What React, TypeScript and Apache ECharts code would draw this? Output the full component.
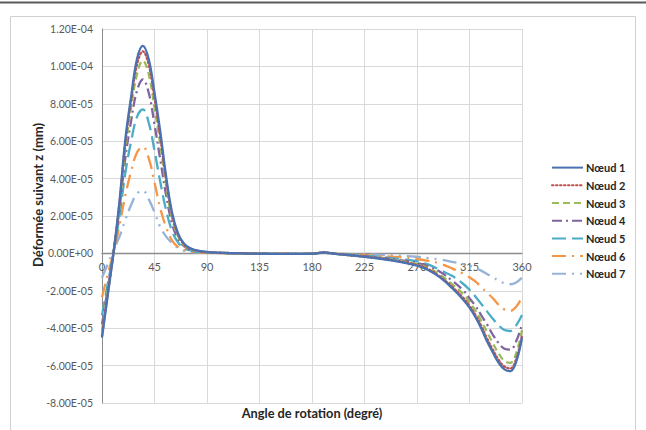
import React, { useEffect, useRef } from "react";
import * as echarts from "echarts";

// Angles (degrees)
const angles = [0, 5, 10, 15, 20, 25, 30, 35, 40, 45, 50, 55, 60, 65, 70, 75, 80, 90, 100, 120, 140, 160, 180, 190, 200, 220, 240, 255, 270, 280, 290, 300, 310, 315, 320, 325, 330, 335, 340, 345, 350, 355, 360];

// Values in units of 1E-05 mm
const noeud1 = [-4.5, -2.2, 0.1, 2.8, 6.1, 8.4, 10.4, 11.1, 10.4, 8.6, 6.5, 4.1, 2.2, 1.1, 0.55, 0.3, 0.18, 0.08, 0.04, 0.0, -0.02, -0.03, -0.02, 0.05, -0.02, -0.15, -0.3, -0.45, -0.65, -0.9, -1.3, -1.85, -2.5, -2.9, -3.4, -4.0, -4.7, -5.3, -5.85, -6.2, -6.3, -5.8, -4.5];
const noeud2 = [-4.4, -2.15, 0.1, 2.7, 5.9, 8.2, 10.1, 10.8, 10.1, 8.3, 6.2, 3.9, 2.1, 1.05, 0.5, 0.28, 0.17, 0.07, 0.04, 0.0, -0.02, -0.03, -0.02, 0.05, -0.02, -0.15, -0.28, -0.43, -0.62, -0.85, -1.25, -1.78, -2.4, -2.8, -3.28, -3.87, -4.55, -5.15, -5.7, -6.05, -6.15, -5.65, -4.4];
const noeud3 = [-4.1, -2.0, 0.1, 2.6, 5.6, 7.8, 9.6, 10.3, 9.6, 7.8, 5.8, 3.6, 1.9, 0.95, 0.45, 0.25, 0.15, 0.06, 0.03, 0.0, -0.02, -0.03, -0.02, 0.04, -0.02, -0.14, -0.26, -0.4, -0.57, -0.8, -1.15, -1.65, -2.2, -2.6, -3.05, -3.6, -4.2, -4.8, -5.35, -5.75, -5.85, -5.35, -4.1];
const noeud4 = [-3.8, -1.85, 0.1, 2.4, 5.1, 7.1, 8.7, 9.3, 8.6, 6.9, 5.0, 3.1, 1.6, 0.8, 0.4, 0.22, 0.13, 0.05, 0.03, 0.0, -0.02, -0.03, -0.02, 0.04, -0.02, -0.12, -0.24, -0.36, -0.5, -0.7, -1.0, -1.45, -2.0, -2.4, -2.8, -3.3, -3.8, -4.35, -4.8, -5.1, -5.15, -4.7, -3.8];
const noeud5 = [-3.3, -1.6, 0.1, 2.0, 4.3, 6.0, 7.3, 7.7, 7.0, 5.5, 3.8, 2.3, 1.2, 0.6, 0.3, 0.17, 0.1, 0.04, 0.02, 0.0, -0.02, -0.02, -0.02, 0.03, -0.02, -0.1, -0.2, -0.3, -0.42, -0.6, -0.9, -1.2, -1.65, -1.95, -2.3, -2.7, -3.1, -3.5, -3.85, -4.1, -4.15, -3.85, -3.3];
const noeud6 = [-2.35, -1.1, 0.1, 1.5, 3.1, 4.4, 5.4, 5.7, 5.1, 3.8, 2.4, 1.4, 0.7, 0.35, 0.2, 0.12, 0.08, 0.03, 0.02, 0.0, -0.01, -0.02, -0.01, 0.03, -0.01, -0.07, -0.14, -0.2, -0.3, -0.4, -0.55, -0.8, -1.1, -1.28, -1.5, -1.8, -2.1, -2.4, -2.75, -3.0, -3.07, -2.85, -2.35];
const noeud7 = [-1.3, -0.55, 0.2, 0.9, 1.8, 2.6, 3.2, 3.35, 2.9, 2.2, 1.4, 0.9, 0.55, 0.3, 0.15, 0.1, 0.06, 0.03, 0.02, 0.0, -0.01, -0.01, -0.01, 0.02, -0.01, -0.04, -0.08, -0.12, -0.18, -0.25, -0.33, -0.45, -0.58, -0.65, -0.78, -0.92, -1.1, -1.28, -1.45, -1.6, -1.65, -1.55, -1.3];

const seriesNames = ["Nœud 1", "Nœud 2", "Nœud 3", "Nœud 4", "Nœud 5", "Nœud 6", "Nœud 7"];
const seriesValues = [noeud1, noeud2, noeud3, noeud4, noeud5, noeud6, noeud7];
const seriesColors = ["#4A71B0", "#C0504D", "#9BBB59", "#8064A2", "#4BACC6", "#F79646", "#95B3D7"];
const seriesDash: any[] = ["solid", [1.5, 2.5], [7, 4], [10, 4, 2, 4], [14, 6], [14, 6, 2, 6], [14, 6, 2, 6, 2, 6]];

const xTicks = [0, 45, 90, 135, 180, 225, 270, 315, 360];
const yMin = -8;
const yMax = 12;
const yStep = 2;

const FONT = "Lato, 'Liberation Sans', sans-serif";

function fmtSci(v: number): string {
  if (v === 0) return "0.00E+00";
  const real = v * 1e-5;
  const s = real.toExponential(2);
  const [m, e] = s.split("e");
  const sign = e[0] === "-" ? "-" : "+";
  const digits = e.replace(/[+-]/, "").padStart(2, "0");
  return `${m}E${sign}${digits}`;
}

export default function App() {
  const ref = useRef<HTMLDivElement>(null);
  useEffect(() => {
    if (!ref.current) return;
    const chart = echarts.init(ref.current, undefined, { renderer: "svg" });
    const series = seriesNames.map((name, i) => ({
      name,
      type: "line",
      data: angles.map((a, j) => [a, seriesValues[i][j]]),
      smooth: 0.4,
      symbol: "none",
      z: 10 - i,
      lineStyle: {
        color: seriesColors[i],
        width: 2.3,
        type: seriesDash[i],
        cap: i === 1 ? "round" : "butt",
      },
      itemStyle: { color: seriesColors[i] },
    }));
    const plotTop = 29;
    const plotBottom = 403;
    const zeroY = plotTop + ((yMax - 0) / (yMax - yMin)) * (plotBottom - plotTop);
    chart.setOption({
      animation: false,
      backgroundColor: "#ffffff",
      grid: { left: 102, right: 124, top: plotTop, bottom: 430 - plotBottom, containLabel: false },
      xAxis: [
        {
          type: "value",
          min: 0,
          max: 360,
          interval: 45,
          offset: -(plotBottom - zeroY),
          axisLine: { show: true, onZero: false, lineStyle: { color: "#8c8c8c", width: 1.3 } },
          axisTick: { show: false },
          axisLabel: {
            color: "#595959",
            fontFamily: FONT,
            fontSize: 11,
            margin: 8,
            formatter: (v: number) => (xTicks.includes(v) ? String(v) : ""),
          },
          splitLine: { show: true, lineStyle: { color: "#d9d9d9", width: 1 } },
        },
      ],
      yAxis: {
        type: "value",
        min: yMin,
        max: yMax,
        interval: yStep,
        axisLine: { show: true, onZero: false, lineStyle: { color: "#8c8c8c", width: 1 } },
        axisTick: { show: false },
        axisLabel: {
          color: "#595959",
          fontFamily: FONT,
          fontSize: 10.5,
          margin: 9,
          formatter: (v: number) => fmtSci(v),
        },
        splitLine: { show: true, lineStyle: { color: "#d9d9d9", width: 1 } },
      },
      legend: {
        orient: "vertical",
        left: 546,
        top: 157,
        itemWidth: 31,
        itemHeight: 14,
        itemGap: 6.5,
        itemStyle: { opacity: 0, color: "transparent", borderColor: "transparent", borderWidth: 0 },
        textStyle: { fontFamily: FONT, fontSize: 11, fontWeight: "bold", color: "#262626", padding: [0, 0, 0, -2] },
        data: seriesNames,
      },
      graphic: [
        { type: "line", shape: { x1: 0, y1: 2.5, x2: 646, y2: 2.5 }, style: { stroke: "#5a5a5a", lineWidth: 2 } },
        { type: "rect", shape: { x: 10.5, y: 16.5, width: 625, height: 420 }, style: { fill: "none", stroke: "#d0d0d0", lineWidth: 1 } },
        {
          type: "text",
          x: 38,
          y: 195,
          rotation: Math.PI / 2,
          style: {
            text: "Déformée suivant z (mm)",
            font: `bold 13px ${FONT}`,
            fill: "#262626",
            textAlign: "center",
            textVerticalAlign: "middle",
          },
        },
        {
          type: "text",
          x: 312,
          y: 413,
          style: {
            text: "Angle de rotation (degré)",
            font: `bold 12.8px ${FONT}`,
            fill: "#262626",
            textAlign: "center",
            textVerticalAlign: "middle",
          },
        },
      ],
      series,
    });
    return () => chart.dispose();
  }, []);
  return <div ref={ref} style={{ position: "fixed", left: 0, top: 0, width: 646, height: 430 }} />;
}
